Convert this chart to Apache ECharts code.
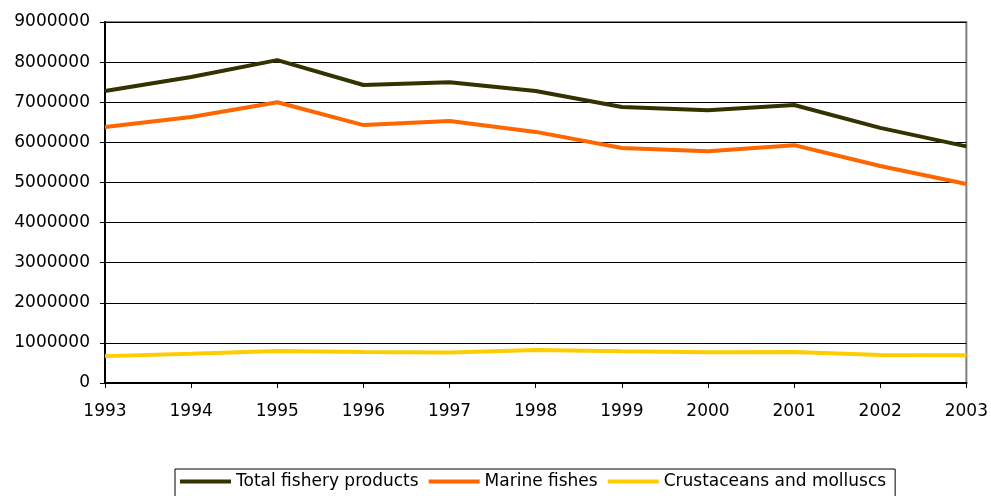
<!DOCTYPE html>
<html>
<head>
<meta charset="utf-8">
<script src="https://cdn.jsdelivr.net/npm/echarts@6/dist/echarts.min.js"></script>
<style>
  html, body { margin: 0; padding: 0; background: #fff; }
  #chart { width: 991px; height: 496px; }
</style>
</head>
<body>
<div id="chart"></div>
<script>
const years = ['1993', '1994', '1995', '1996', '1997', '1998', '1999', '2000', '2001', '2002', '2003'];
const totalFishery = [7280000, 7630000, 8050000, 7430000, 7500000, 7280000, 6880000, 6800000, 6930000, 6360000, 5900000];
const marineFishes = [6380000, 6630000, 7000000, 6430000, 6530000, 6260000, 5860000, 5780000, 5930000, 5410000, 4960000];
const crustaceans = [670000, 730000, 800000, 770000, 760000, 820000, 790000, 765000, 770000, 700000, 690000];

const chart = echarts.init(document.getElementById('chart'));
const font = '"DejaVu Sans", Verdana, sans-serif';

const lineSeries = (name, data, color) => ({
  name,
  type: 'line',
  data,
  symbol: 'none',
  lineStyle: { color, width: 4 },
  itemStyle: { color },
  animation: false
});

const option = {
  animation: false,
  grid: {
    left: 105,
    right: 23,
    top: 22,
    bottom: 113,
    show: true,
    borderColor: '#808080',
    borderWidth: 2
  },
  legend: {
    top: 469,
    left: 175,
    icon: 'rect',
    itemWidth: 51,
    itemHeight: 4,
    itemGap: 10,
    padding: [4, 9, 10, 5],
    borderColor: '#000',
    borderWidth: 1,
    textStyle: {
      fontFamily: font,
      fontSize: 17,
      color: '#000'
    },
    data: ['Total fishery products', 'Marine fishes', 'Crustaceans and molluscs']
  },
  xAxis: {
    type: 'category',
    data: years,
    boundaryGap: false,
    axisLine: { lineStyle: { color: '#000', width: 2 } },
    axisTick: { show: true, length: 5, alignWithLabel: true, lineStyle: { color: '#000' } },
    axisLabel: {
      margin: 20,
      color: '#000',
      fontSize: 17,
      fontFamily: font
    },
    splitLine: { show: false }
  },
  yAxis: {
    type: 'value',
    min: 0,
    max: 9000000,
    interval: 1000000,
    axisLine: { show: true, lineStyle: { color: '#000', width: 2 } },
    axisTick: { show: true, length: 5, lineStyle: { color: '#000' } },
    axisLabel: {
      margin: 15,
      color: '#000',
      fontSize: 17,
      fontFamily: font,
      formatter: (v) => String(v)
    },
    splitLine: { show: true, lineStyle: { color: '#000', width: 1 } }
  },
  series: [
    lineSeries('Total fishery products', totalFishery, '#333300'),
    lineSeries('Marine fishes', marineFishes, '#FF6600'),
    lineSeries('Crustaceans and molluscs', crustaceans, '#FFCC00')
  ]
};

chart.setOption(option);
window.addEventListener('resize', () => chart.resize(), false);
</script>
</body>
</html>
